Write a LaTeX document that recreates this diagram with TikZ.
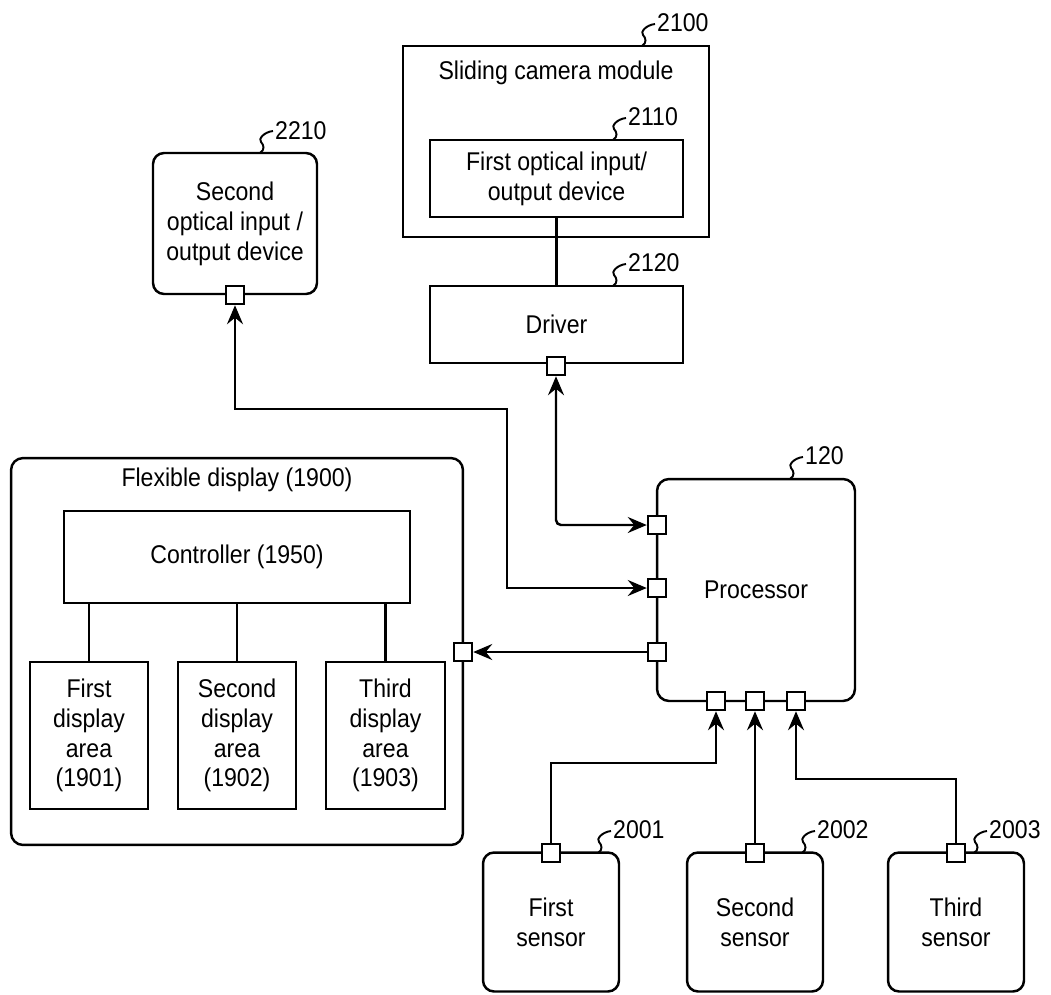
\documentclass[tikz,border=0pt]{standalone}
\usepackage{fontspec}
\setmainfont[FakeStretch=0.9]{Liberation Sans}
\usepackage{tikz}
\usetikzlibrary{arrows.meta, positioning}

\begin{document}
\begin{tikzpicture}[
    x=0.02cm, y=-0.02cm,
    font=\fontsize{14.6}{17}\selectfont,
    every path/.style={line width=1.4pt},
    box/.style={rectangle, draw=black, align=center, inner sep=0pt},
    rbox/.style={rectangle, rounded corners=0.22cm, draw=black, align=center, inner sep=0pt},
    port/.style={rectangle, draw=black, fill=white, minimum size=0.36cm, inner sep=0pt},
    tag/.style={anchor=west, inner sep=0pt},
    arrow/.style={-{Stealth[length=0.38cm, width=0.32cm, inset=0.13cm]}},
    biarrow/.style={{Stealth[length=0.38cm, width=0.32cm, inset=0.13cm]}-{Stealth[length=0.38cm, width=0.32cm, inset=0.13cm]}},
    lead/.pic={\draw[line width=1.1pt] (0,0) .. controls (5,-3) and (4,-8) .. (1,-11) .. controls (-2,-14) and (4,-21) .. (13,-22);}
]
\useasboundingbox (0,0) rectangle (1051,994);

% camera side
\node[box, minimum width=6.12cm, minimum height=3.82cm] (cam) at (556,141.5) {};
\node (camtitle) at (556,73) {Sliding camera module};
\node[box, minimum width=5.06cm, minimum height=1.54cm] (opt1) at (556.5,178.5) {First optical input/\\output device};
\node[box, minimum width=5.06cm, minimum height=1.54cm] (driver) at (556.5,324.5) {Driver};
\node[rbox, minimum width=3.28cm, minimum height=2.82cm] (opt2) at (235,223.5) {Second\\optical input /\\output device};

% flexible display
\node[rbox, rounded corners=0.24cm, minimum width=9.04cm, minimum height=7.74cm] (flex) at (237,651.5) {};
\node (flextitle) at (237,480) {Flexible display (1900)};
\node[box, minimum width=6.92cm, minimum height=1.84cm] (ctrl) at (237,557) {Controller (1950)};
\node[box, minimum width=2.36cm, minimum height=2.94cm] (area1) at (89,735.5) {First\\display\\area\\(1901)};
\node[box, minimum width=2.36cm, minimum height=2.94cm] (area2) at (237,735.5) {Second\\display\\area\\(1902)};
\node[box, minimum width=2.38cm, minimum height=2.94cm] (area3) at (385.5,735.5) {Third\\display\\area\\(1903)};

% processor and sensors
\node[rbox, rounded corners=0.24cm, minimum width=3.96cm, minimum height=4.44cm] (proc) at (756,590) {Processor};
\node[rbox, minimum width=2.72cm, minimum height=2.78cm] (sens1) at (551,922) {First\\sensor};
\node[rbox, minimum width=2.72cm, minimum height=2.78cm] (sens2) at (755,922) {Second\\sensor};
\node[rbox, minimum width=2.72cm, minimum height=2.78cm] (sens3) at (956,922) {Third\\sensor};

% reference numerals
\pic at (642,46) {lead};
\node[tag] (l2100) at (656,23) {2100};
\pic at (613,140) {lead};
\node[tag] (l2110) at (627,117) {2110};
\pic at (613,286) {lead};
\node[tag] (l2120) at (627,263) {2120};
\pic at (260,153) {lead};
\node[tag] (l2210) at (274,131) {2210};
\pic at (790,479) {lead};
\node[tag] (l120) at (804,456) {120};
\pic at (598,853) {lead};
\node[tag] (l2001) at (612,830) {2001};
\pic at (802,853) {lead};
\node[tag] (l2002) at (816,830) {2002};
\pic at (974,853) {lead};
\node[tag] (l2003) at (988,830) {2003};

% plain links
\draw (opt1) -- (driver);
\draw (ctrl.south -| area1) -- (area1);
\draw (ctrl.south -| area2) -- (area2);
\draw (ctrl.south -| area3) -- (area3);

% ports
\node[port] (dport) at (556,366) {};
\node[port] (oport) at (235,295) {};
\node[port] (fport) at (463,652) {};
\node[port] (pl1) at (657,525) {};
\node[port] (pl2) at (657,588) {};
\node[port] (pl3) at (657,652) {};
\node[port] (pb1) at (716,701) {};
\node[port] (pb2) at (755,701) {};
\node[port] (pb3) at (796,701) {};
\node[port] (sp1) at (551,853) {};
\node[port] (sp2) at (755,853) {};
\node[port] (sp3) at (956,853) {};

\coordinate (bend) at (507,409);
\coordinate (j1) at (716,763);
\coordinate (j3) at (796,779);

\draw[biarrow, rounded corners=0.1cm] (dport.south) |- (pl1.west);
\draw[biarrow] (oport.south) |- (bend) |- (pl2.west);
\draw[arrow] (pl3.west) -- (fport.east);
\draw[arrow] (sp1.north) |- (j1) -- (pb1.south);
\draw[arrow] (sp2.north) -- (pb2.south);
\draw[arrow] (sp3.north) |- (j3) -- (pb3.south);

\end{tikzpicture}
\end{document}
